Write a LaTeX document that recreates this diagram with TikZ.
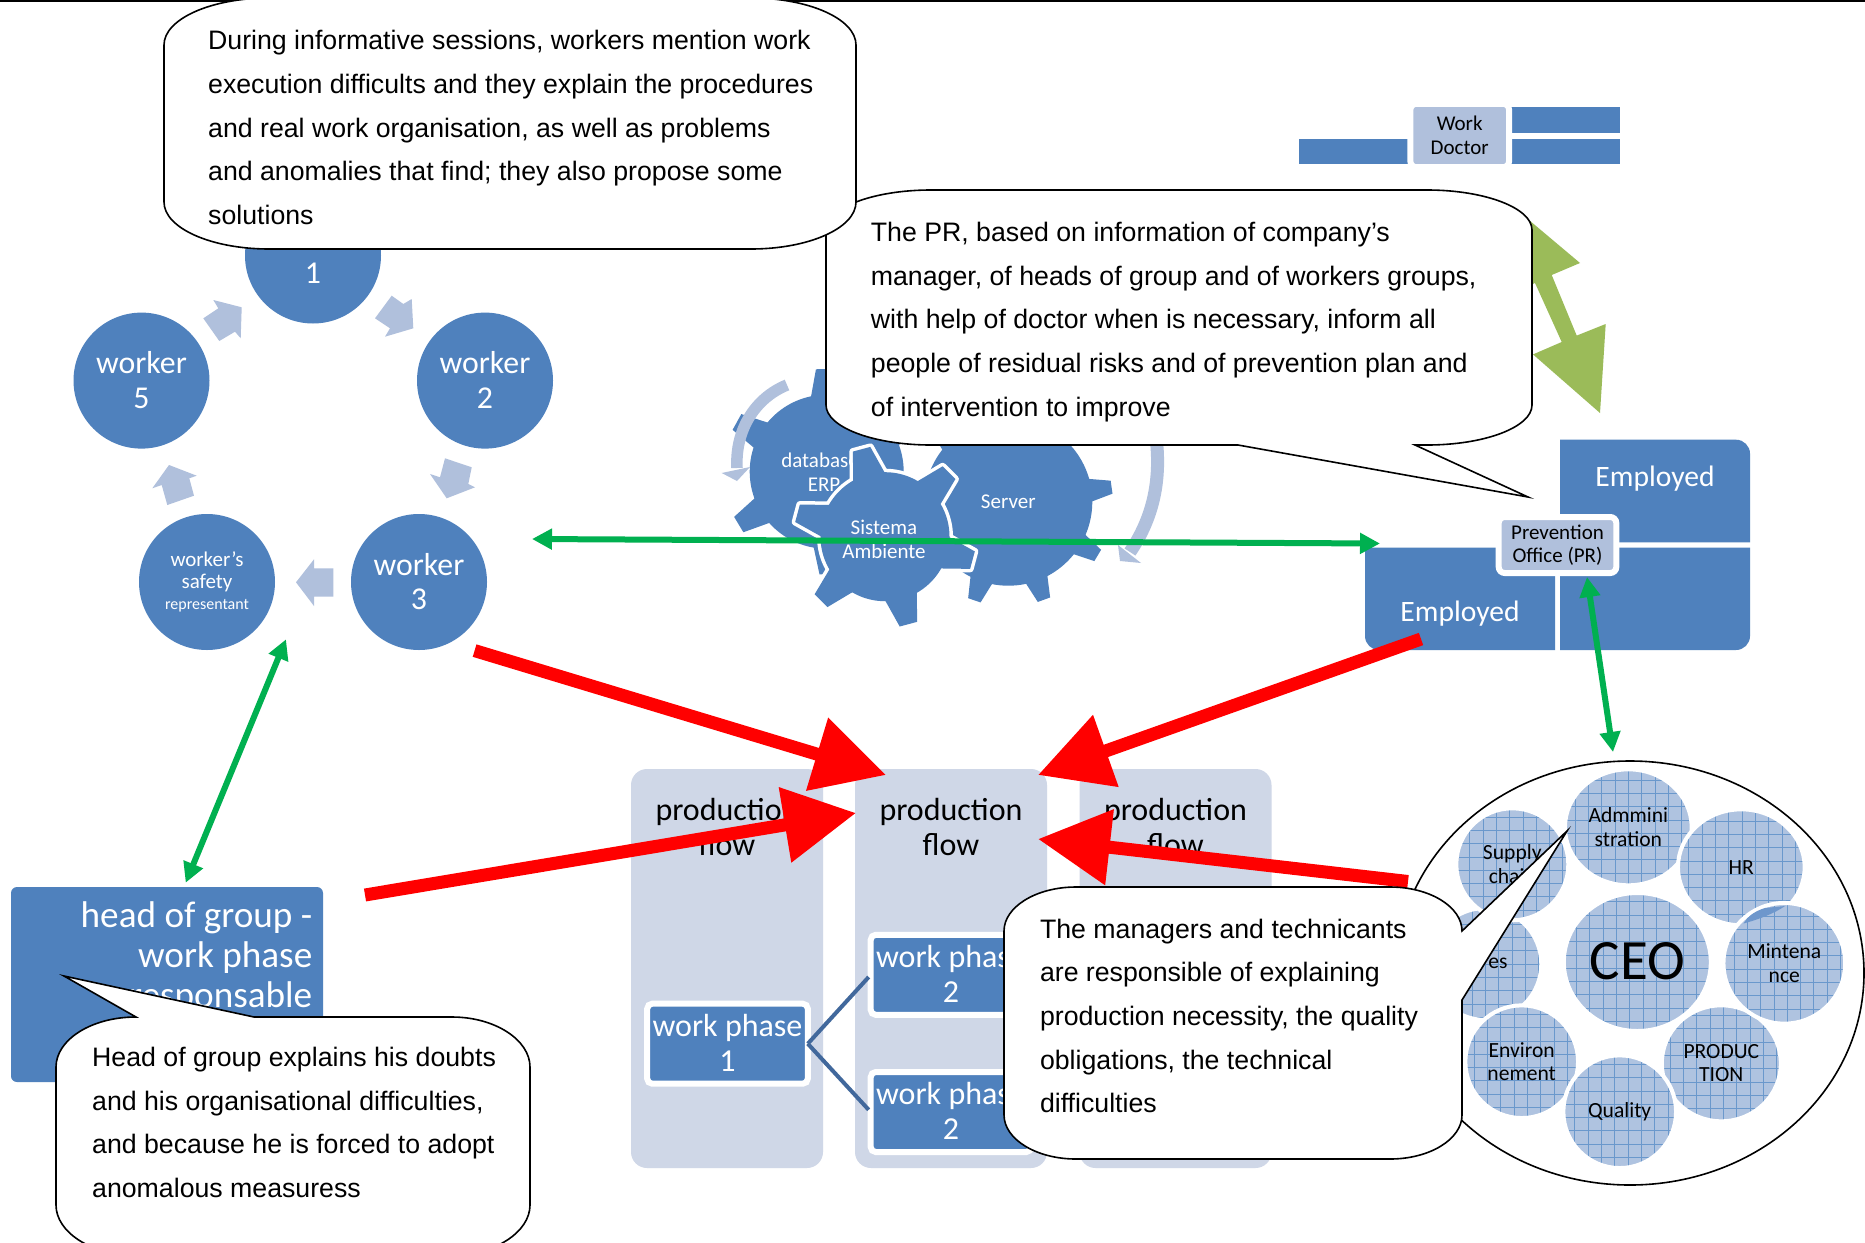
\documentclass[tikz,border=0pt]{standalone}
\usepackage{fontspec}
\setmainfont{Carlito}
\newfontfamily\arialf{Liberation Sans}
\usetikzlibrary{arrows.meta,shapes.geometric}
\definecolor{bluem}{HTML}{4F81BD}
\definecolor{bluel}{HTML}{B0C0DC}
\definecolor{colbg}{HTML}{CFD7E7}
\definecolor{greenl}{HTML}{00B050}
\definecolor{olive}{HTML}{9BBB59}
\definecolor{linkc}{HTML}{41689C}
\definecolor{texc}{HTML}{AFC3E0}
\definecolor{gridc}{HTML}{6A98CC}
\definecolor{sliver}{HTML}{6E97CC}
\newcommand\fs[2]{\fontsize{#1}{#2}\selectfont}
\newcommand\gearteeth[9]{%
  % cx cy r R start-list bw tw style
  \foreach \a in {#5}{%
    \path[#8] ({#1+(#3-1)*cos(\a-#6)},{#2-(#3-1)*sin(\a-#6)}) -- ({#1+#4*cos(\a-#7)},{#2-#4*sin(\a-#7)}) -- ({#1+#4*cos(\a+#7)},{#2-#4*sin(\a+#7)}) -- ({#1+(#3-1)*cos(\a+#6)},{#2-(#3-1)*sin(\a+#6)}) -- cycle;
  }%
  \path[#8] (#1,#2) circle[radius=#3];
}
\tikzset{
  x=1pt,y=-1pt,
  worker/.style={circle,fill=bluem,text=white,minimum size=136pt,inner sep=0pt,outer sep=0pt,align=center,font=\fs{31.8}{35}},
  colbox/.style={rectangle,rounded corners=16pt,fill=colbg,minimum width=192pt,minimum height=399pt,inner sep=0pt},
  coltext/.style={align=center,text=black,font=\fs{32}{35},inner sep=0pt},
  phasebox/.style={rectangle,rounded corners=5pt,fill=bluem,draw=white,line width=6pt,text=white,align=center,minimum width=160.6pt,minimum height=80pt,inner sep=0pt,outer sep=0pt,font=\fs{32}{35}},
  lightbox/.style={rectangle,rounded corners=6pt,fill=bluel,draw=white,line width=6pt,text=black,align=center,inner sep=0pt,outer sep=0pt,font=\fs{21}{23.5}},
  blocktxt/.style={text=white,font=\fs{29.6}{32},inner sep=0pt},
  blockarrow/.style={fill=bluel},
  greenarrow/.style={draw=greenl,line width=6pt,{Triangle[length=20pt,width=20pt]}-{Triangle[length=20pt,width=20pt]}},
  redarrow/.style={draw=red,line width=13pt,-{Triangle[length=72pt,width=73pt]}},
  dept/.style={ellipse,fill=texc,draw=white,line width=4pt,inner sep=0pt,outer sep=0pt,align=center,text=black,font=\fs{21.6}{23.5},
    path picture={\draw[gridc,line width=.7pt] (path picture bounding box.south west) grid[step=13.3pt] (path picture bounding box.north east);}},
  bubble/.style={draw=black,line width=1.6pt,fill=white},
  bubbletxt/.style={align=left,anchor=west,inner sep=0pt,text=black,font={\arialf\fs{26.7}{43.7}}},
  geartxt/.style={text=white,align=center,inner sep=0pt,font=\fs{21}{24}},
}
\begin{document}
\begin{tikzpicture}
\useasboundingbox (0,0) rectangle (1865,1242);
\clip (0,0) rectangle (1865,1242);
\fill[white] (0,0) rectangle (1865,1242);
\draw[black,line width=2pt] (0,0.5) -- (1865,0.5);

% production columns
\node[colbox] (col1) at (727,968.5) {};
\node[colbox] (col2) at (951,968.5) {};
\node[colbox] (col3) at (1175.5,968.5) {};
\node[coltext] (flow1) at (727,827) {production\\flow};
\node[coltext] (flow2) at (951,827) {production\\flow};
\node[coltext] (flow3) at (1175.5,827) {production\\flow};
\node[phasebox] (wp1) at (727.5,1043.7) {\raisebox{2pt}{work phase}\\\raisebox{2pt}{1}};
\node[phasebox] (wp2a) at (951,974.8) {\raisebox{2pt}{work phase}\\\raisebox{2pt}{2}};
\node[phasebox] (wp2b) at (951,1112) {\raisebox{2pt}{work phase}\\\raisebox{2pt}{2}};
\draw[linkc,line width=4pt,shorten >=3pt] (wp1.east) -- (wp2a.west);
\draw[linkc,line width=4pt,shorten >=3pt] (wp1.east) -- (wp2b.west);

% work doctor
\fill[bluem] (1299,138.5) rectangle (1412,164.2);
\fill[bluem] (1506,106.8) rectangle (1620,132.8);
\fill[bluem] (1506,138.5) rectangle (1620,164.2);
\node[lightbox,minimum width=98.7pt,minimum height=63.4pt] (doctor) at (1459.7,135.5) {Work\\Doctor};

% employed blocks
\fill[bluem] (1560,439.7) [rounded corners=14pt] -- (1750,439.7) [sharp corners] -- (1750,542.3) -- (1560,542.3) -- cycle;
\fill[bluem] (1560,547.7) -- (1750,547.7) [rounded corners=14pt] -- (1750,650) [sharp corners] -- (1560,650) -- cycle;
\fill[bluem] (1555,547.7) -- (1555,650) [rounded corners=14pt] -- (1365,650) [sharp corners] -- (1365,547.7) -- cycle;
\node[blocktxt] (emp1) at (1655,479) {Employed};
\node[blocktxt] (emp2) at (1460,613.5) {Employed};
\node[lightbox,minimum width=117.6pt,minimum height=56pt] (prev) at (1557.5,545) {Prevention\\Office (PR)};

% workers
\node[worker] (w1) at (313,255.5) {worker\\\raisebox{1pt}{1}};
\node[worker] (w5) at (141.5,380.6) {\raisebox{2pt}{worker}\\\raisebox{1.5pt}{5}};
\node[worker] (w2) at (485,380.6) {\raisebox{2pt}{worker}\\\raisebox{1.5pt}{2}};
\node[worker] (w3) at (419,582) {worker\\\raisebox{1pt}{3}};
\node[worker,font=\fs{21}{22.6}] (rep) at (207,582) {\raisebox{-3pt}{worker's}\\\raisebox{-2.6pt}{safety}\\{\fs{16}{17}\raisebox{-0.6pt}{representant}}};
\fill[blockarrow] (391.7,295.7) -- (403.3,304) -- (411.7,299) -- (413.3,328.3) -- (385,336.7) -- (390,328.3) -- (375,318.3) -- cycle;
\fill[blockarrow] (445,458.3) -- (471.7,467.3) -- (468.3,484) -- (475,487.3) -- (446.7,498.3) -- (430,474) -- (440,477.3) -- cycle;
\fill[blockarrow] (333.3,568.3) -- (314,568.3) -- (314,559.3) -- (296,582.3) -- (314,606) -- (314,596.7) -- (333.3,596.7) -- cycle;
\fill[blockarrow] (167.3,505) -- (194,495.7) -- (189.3,478.3) -- (196.7,475.7) -- (169,465) -- (152.3,488.3) -- (161.7,485) -- cycle;
\fill[blockarrow] (219.3,341) -- (235,331.7) -- (240.7,338.3) -- (241.7,307.3) -- (213.3,300) -- (218.3,308.3) -- (203.3,318.3) -- cycle;

% gears
\gearteeth{826.7}{471.7}{77}{103}{31,91,151,211,271,331}{11}{5}{fill=bluem}{}
\gearteeth{1008.3}{501.7}{84}{104.5}{8,-31,-70,-109,-148,-187,-226,-265,-304}{8}{3.6}{fill=bluem}{}
\node[geartxt] (dbtxt) at (820,472) {database\\\hspace{8pt}ERP};
\node[geartxt] (srvtxt) at (1008.3,502) {Server};
\gearteeth{885}{536.7}{64.5}{91}{-75,-15,45,105,165,225}{15}{5.7}{draw=white,line width=7pt,line join=round}{}
\gearteeth{885}{536.7}{64.5}{91}{-75,-15,45,105,165,225}{15}{5.7}{fill=bluem}{}
\node[geartxt] (sistxt) at (884,539) {Sistema\\Ambiente};
% circular arrows
\draw[bluel,line width=11.5pt] (787,385) .. controls (755,398) and (735,430) .. (737,468);
\fill[bluel] (721.7,473) -- (750,467) -- (737,481) -- cycle;
\draw[bluel,line width=13pt] (1155,430) .. controls (1162,475) and (1155,515) .. (1130,552);
\fill[bluel] (1118,545) -- (1141,563) -- (1120,561) -- cycle;

% green connectors
\coordinate (gA) at (532,539);
\coordinate (gB) at (1380,543.5);
\draw[greenarrow] (gA) -- (gB);
\coordinate (gC) at (286,639.3);
\coordinate (gD) at (185.7,882.7);
\draw[greenarrow] (gC) -- (gD);
\coordinate (gE) at (1587,577);
\coordinate (gF) at (1613,752);
\draw[greenarrow] (gE) -- (gF);

% organisation circle
\node[ellipse,draw=black,line width=1.6pt,fill=white,minimum width=468pt,minimum height=424pt,inner sep=0pt] (org) at (1630,973) {};
\node[dept,minimum width=112pt,minimum height=112pt] (sales) at (1485.3,964) {};
\node[text=black,font=\fs{21.6}{23.5},inner sep=0pt] (salestxt) at (1498,963) {es};
\fill[sliver] (1493,1016) .. controls (1499,1012) and (1506,1009) .. (1513,1008) -- (1505,1008) .. controls (1500,1009) and (1496,1012) .. (1493,1016) -- cycle;
\node[dept,minimum width=112pt,minimum height=112pt] (supply) at (1512.3,864.3) {Supply\\chain};
\node[dept,minimum width=126.7pt,minimum height=116pt] (adm) at (1628.3,827.3) {Admmini\\stration};
\node[dept,minimum width=126.7pt,minimum height=116pt] (hr) at (1741.3,867.3) {HR};
\node[dept,minimum width=147pt,minimum height=138pt,font=\fs{57}{60}] (ceo) at (1637.3,962) {\raisebox{2pt}{CEO}};
\node[dept,minimum width=119pt,minimum height=116pt] (prod) at (1721.3,1063.3) {PRODUC\\TION};
\node[dept,minimum width=121.7pt,minimum height=120.7pt] (mint) at (1784.3,963.3) {Mintena\\nce};
\fill[sliver] (1743.5,923.5) .. controls (1760,919) and (1775,913) .. (1785,906) -- (1765,908) .. controls (1755,911) and (1748,916) .. (1743.5,923.5) -- cycle;
\node[dept,minimum width=112.7pt,minimum height=112.7pt] (env) at (1521.7,1061.7) {Environ\\nement};
\node[dept,minimum width=112.7pt,minimum height=112.7pt] (qual) at (1619.7,1111.7) {Quality};

% red arrows
\coordinate (rA) at (474.6,650.6);
\coordinate (rB) at (886,775);
\draw[redarrow] (rA) -- (rB);
\coordinate (rC) at (1421,639);
\coordinate (rD) at (1038,775);
\draw[redarrow] (rC) -- (rD);
\coordinate (rE) at (365,895);
\coordinate (rF) at (856,813);
\draw[redarrow] (rE) -- (rF);
\coordinate (rG) at (1408,881.5);
\coordinate (rH) at (1038,839);
\draw[redarrow] (rG) -- (rH);

% head of group
\node[rectangle,rounded corners=6pt,fill=bluem,text=white,minimum width=312pt,minimum height=195pt,inner sep=0pt] (head) at (167,984.5) {};
\node[anchor=east,align=right,text=white,inner sep=0pt,font=\fs{37.2}{40}] (headtxt) at (312.5,958) {head of group -\\work phase\\responsable};

% green double block arrow
\fill[olive] (1511.7,205.5) -- (1580,263) -- (1551.7,275) -- (1576.7,335.6) -- (1605.7,324) -- (1600,413) -- (1533,354.4) -- (1561.7,342) -- (1535,283) -- (1505,296) -- cycle;

% callouts
\path[bubble] (931,190) -- (1427,190) .. controls (1485,190) and (1532,208) .. (1532,230) -- (1532,405) .. controls (1532,427) and (1485,445) .. (1427,445) -- (1415,445) -- (1528,497) -- (1238,445) -- (931,445) .. controls (873,445) and (826,427) .. (826,405) -- (826,230) .. controls (826,208) and (873,190) .. (931,190) -- cycle;
\node[bubbletxt] (t2) at (870.7,322) {The PR, based on information of company’s\\manager, of heads of group and of workers groups,\\with help of doctor when is necessary, inform all\\people of residual risks and of prevention plan and\\of intervention to improve};
\path[bubble] (269,-2) -- (751,-2) .. controls (809,-2) and (856,19) .. (856,45) -- (856,202) .. controls (856,228) and (809,249) .. (751,249) -- (269,249) .. controls (211,249) and (164,228) .. (164,202) -- (164,45) .. controls (164,19) and (211,-2) .. (269,-2) -- cycle;
\node[bubbletxt] (t1) at (208,127.5) {During informative sessions, workers mention work\\execution difficults and they explain the procedures\\and real work organisation, as well as problems\\and anomalies that find; they also propose some\\solutions};
\path[bubble] (136,1017) -- (64,976) -- (254,1017) -- (452,1017) .. controls (495,1017) and (530,1040) .. (530,1067) -- (530,1205) .. controls (530,1232) and (495,1255) .. (452,1255) -- (134,1255) .. controls (91,1255) and (56,1232) .. (56,1205) -- (56,1067) .. controls (56,1040) and (91,1017) .. (136,1017) -- cycle;
\node[bubbletxt] (t4) at (92,1122.5) {Head of group explains his doubts\\and his organisational difficulties,\\and because he is forced to adopt\\anomalous measuress};
\path[bubble] (1076,887) -- (1390,887) .. controls (1430,887) and (1462,907) .. (1462,931) -- (1567,831) -- (1462,1000) -- (1462,1115) .. controls (1462,1139) and (1430,1159) .. (1390,1159) -- (1076,1159) .. controls (1036,1159) and (1004,1139) .. (1004,1115) -- (1004,931) .. controls (1004,907) and (1036,887) .. (1076,887) -- cycle;
\node[bubbletxt] (t3) at (1039.8,1016) {The managers and technicants\\are responsible of explaining\\production necessity, the quality\\obligations, the technical\\difficulties};
\end{tikzpicture}
\end{document}
